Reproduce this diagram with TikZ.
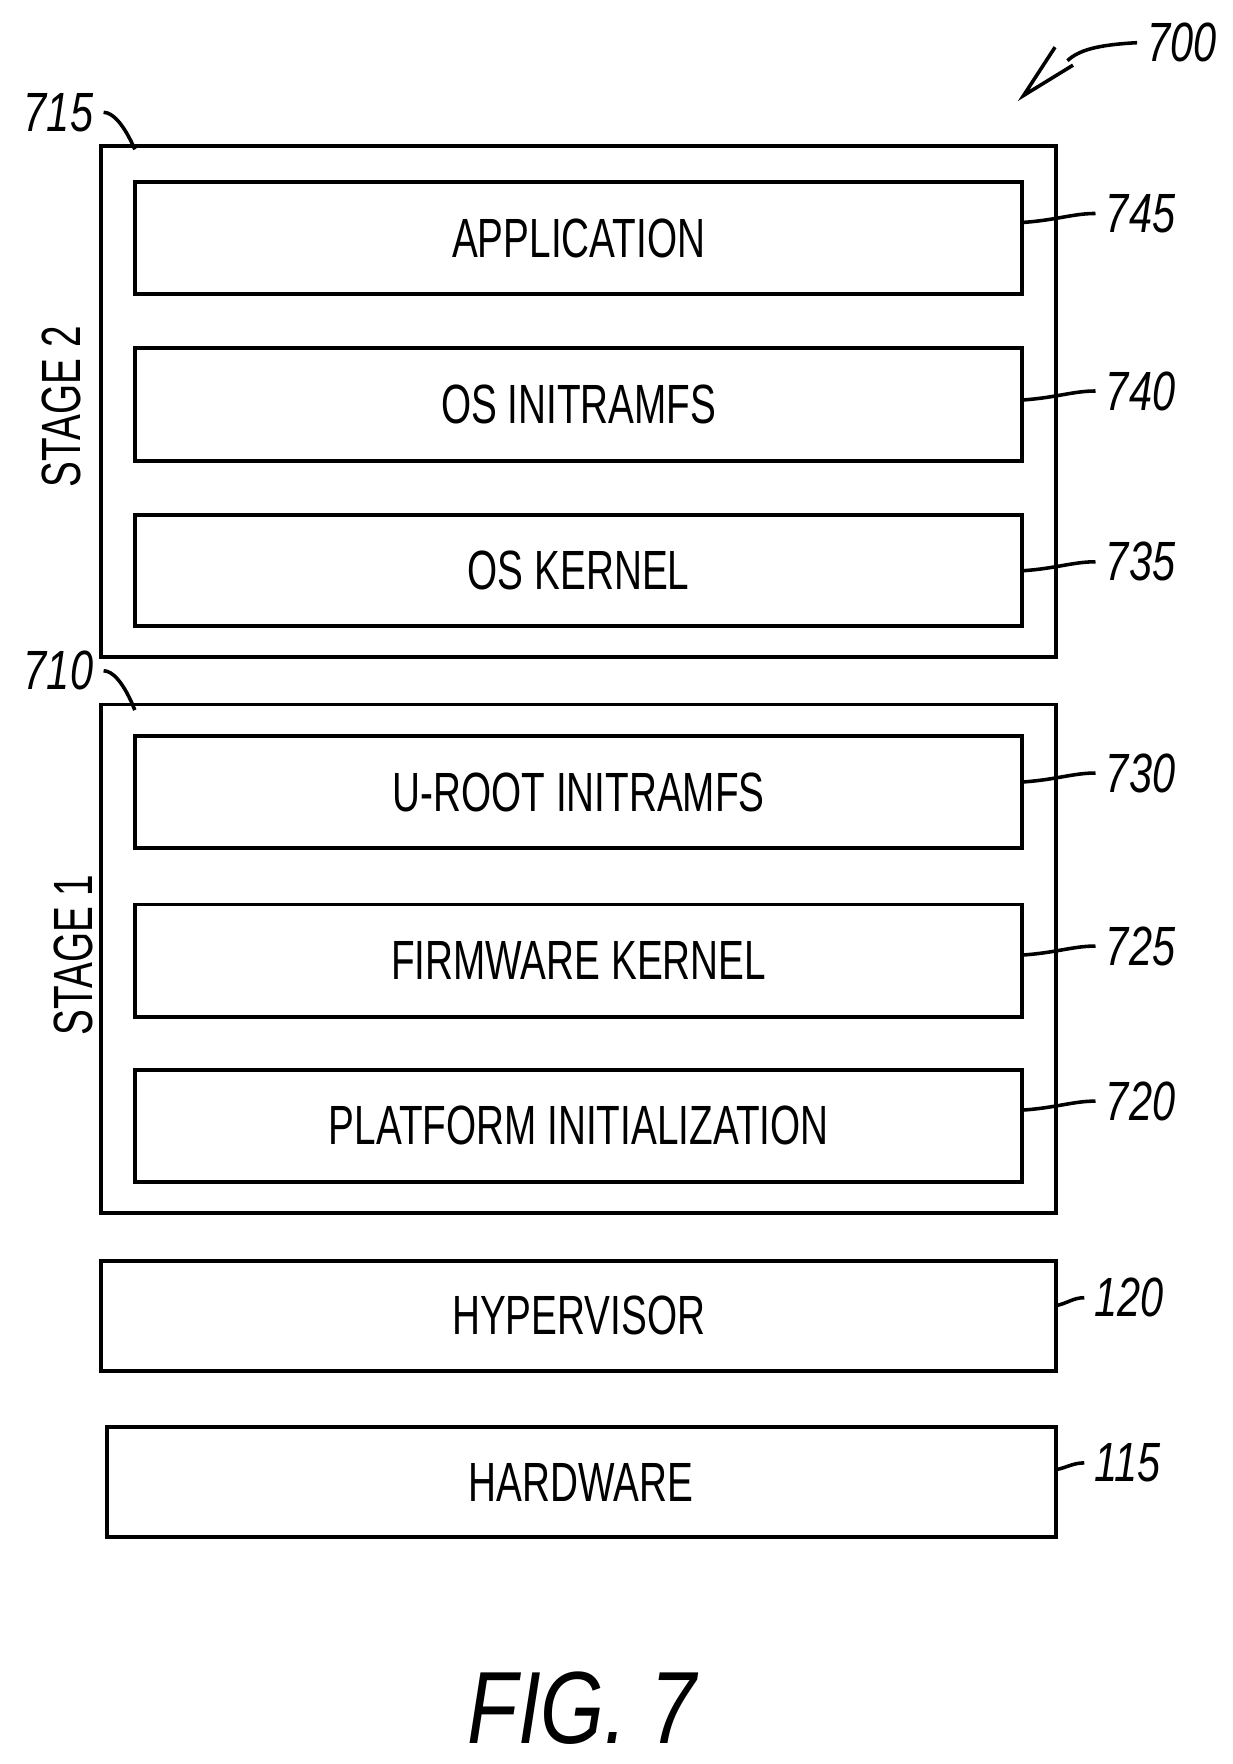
\documentclass[tikz,border=0pt]{standalone}
\usepackage{fontspec}
\setmainfont{Liberation Sans}
\begin{document}
\begin{tikzpicture}[x=0.1mm,y=-0.1mm,
  box/.style={draw,line width=1pt},
  txt/.style={font=\fontsize{14}{14}\selectfont, xscale=0.7},
  rtxt/.style={font=\fontsize{14}{14}\selectfont, rotate=90},
  num/.style={font=\fontsize{14}{14}\selectfont\itshape, xscale=0.75, anchor=west},
  lead/.style={line width=0.9pt}]
\useasboundingbox (0,0) rectangle (1097,1570);
% outer
\draw[box] (90,130) rectangle (940,585);
\draw[box] (90,627) rectangle (940,1080);
% inner boxes
\foreach \n/\a/\b/\t/\l/\ly in {
  app/162/262/APPLICATION/745/190,
  osi/310/410/OS INITRAMFS/740/348,
  osk/458/557/OS KERNEL/735/500,
  uri/655/755/U-ROOT INITRAMFS/730/688,
  fwk/805/905/FIRMWARE KERNEL/725/842,
  pli/952/1052/PLATFORM INITIALIZATION/720/980}{
  \draw[box] (120,\a) rectangle (910,\b);
  \node[txt] (\n) at (515,{(\a+\b)/2}) {\t};
  \node[num] (n\l) at (975,\ly) {\l};
  \draw[lead] (910,{\ly+8}) .. controls (940,{\ly+6}) and (955,\ly) .. (n\l.west);
}
\draw[box] (90,1122) rectangle (940,1220);
\node[txt] (hyp) at (515,1171) {HYPERVISOR};
\node[num] (n120) at (965,1155) {120};
\draw[lead] (940,1162) .. controls (950,1160) and (955,1155) .. (n120.west);
\draw[box] (95,1270) rectangle (940,1368);
\node[txt] (hw) at (517,1319) {HARDWARE};
\node[num] (n115) at (965,1302) {115};
\draw[lead] (940,1308) .. controls (950,1306) and (955,1302) .. (n115.west);
% stage labels
\node[rtxt] (s2) at (55,362) {\scalebox{0.7}[1]{STAGE 2}};
\node[rtxt] (s1) at (65,850) {\scalebox{0.7}[1]{STAGE 1}};
% 715 / 710
\node[num] (n715) at (12,100) {715};
\coordinate (c715) at (120,133);
\draw[lead] (n715.east) .. controls (100,100) and (110,110) .. (c715);
\node[num] (n710) at (12,597) {710};
\coordinate (c710) at (120,632);
\draw[lead] (n710.east) .. controls (100,597) and (110,607) .. (c710);
% 700
\node[num] (n700) at (1012,38) {700};
\coordinate (c700) at (911,85);
\draw[lead] (n700.west) .. controls (975,40) and (960,45) .. (950,54);
\draw[lead] (939,42) -- (c700) -- (955,58);
% fig
\node[font=\fontsize{26}{26}\selectfont\itshape, xscale=0.8] (fig) at (518,1520) {FIG. 7};
\end{tikzpicture}
\end{document}
